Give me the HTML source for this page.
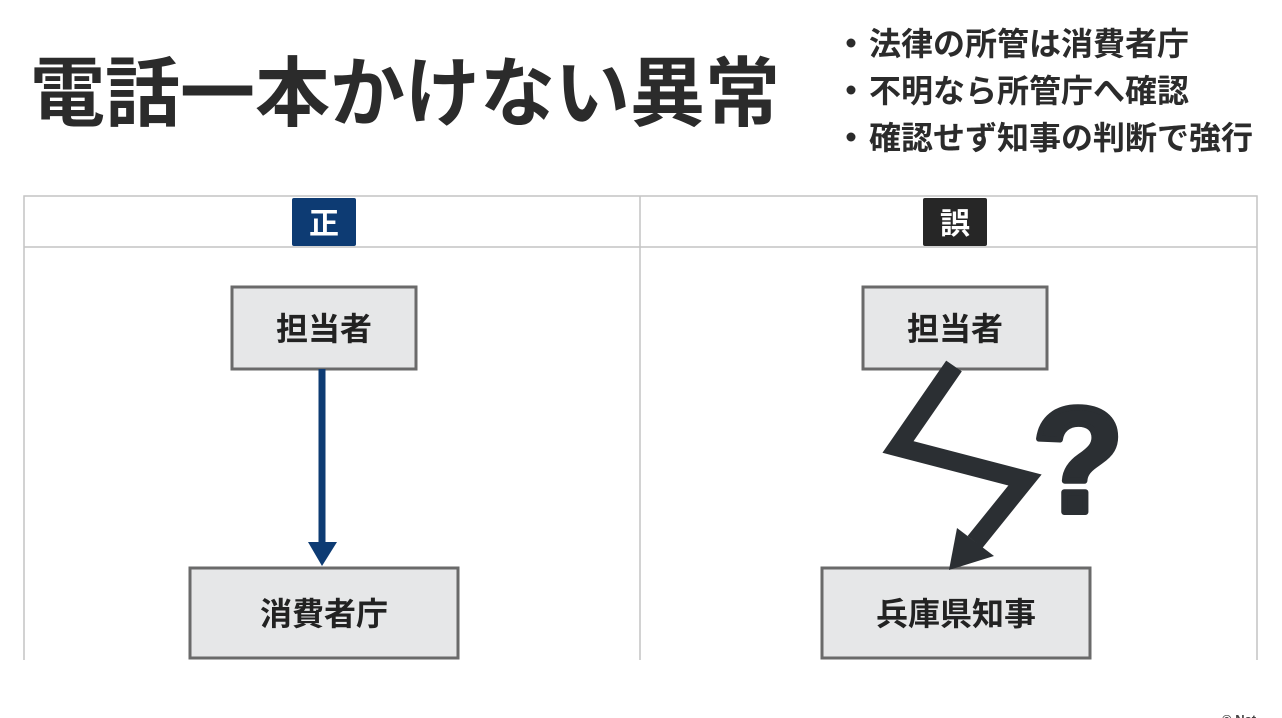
<!DOCTYPE html>
<html><head><meta charset="utf-8"><style>
html,body{margin:0;padding:0;background:#fff;}
body{width:1282px;height:718px;overflow:hidden;position:relative;font-family:"Liberation Sans","Noto Sans CJK JP",sans-serif;}
svg{position:absolute;left:0;top:0;}
text{font-family:"Liberation Sans","Noto Sans CJK JP",sans-serif;font-weight:bold;}
</style></head><body>
<svg width="1282" height="718" viewBox="0 0 1282 718">
<text x="30" y="120" font-size="76" fill="#2b2b2b" font-weight="900" textLength="750" lengthAdjust="spacingAndGlyphs">電話一本かけない異常</text>
<g font-size="32" fill="#2b2b2b">
<circle cx="851" cy="43" r="4.5" fill="#2b2b2b"/>
<text x="869" y="55">法律の所管は消費者庁</text>
<circle cx="851" cy="90" r="4.5" fill="#2b2b2b"/>
<text x="869" y="102">不明なら所管庁へ確認</text>
<circle cx="851" cy="137" r="4.5" fill="#2b2b2b"/>
<text x="869" y="149">確認せず知事の判断で強行</text>
</g>
<g stroke="#c4c4c4" stroke-width="1.5" fill="none">
<path d="M24 660 V196 H1257 V660"/>
<line x1="24" y1="247" x2="1257" y2="247"/>
<line x1="640" y1="196" x2="640" y2="660"/>
</g>
<rect x="292" y="198" width="64" height="48" rx="2" fill="#0d3b73"/>
<text x="324" y="234" font-size="30" fill="#fff" text-anchor="middle">正</text>
<rect x="923" y="198" width="64" height="48" rx="2" fill="#262626"/>
<text x="955" y="234" font-size="30" fill="#fff" text-anchor="middle">誤</text>
<g fill="#e6e7e8" stroke="#6a6a6a" stroke-width="3">
<rect x="232" y="287" width="184" height="82"/>
<rect x="190" y="568" width="268" height="90"/>
<rect x="863" y="287" width="184" height="82"/>
<rect x="822" y="568" width="268" height="90"/>
</g>
<g font-size="32" fill="#222" text-anchor="middle">
<text x="324" y="340">担当者</text>
<text x="324" y="625">消費者庁</text>
<text x="955" y="340">担当者</text>
<text x="956" y="625">兵庫県知事</text>
</g>
<line x1="322" y1="369" x2="322" y2="545" stroke="#0d3b73" stroke-width="7"/>
<polygon points="308,542 337,542 322,566" fill="#0d3b73"/>
<polyline points="954,366 898,447 1025,480 975,542" fill="none" stroke="#2b2f33" stroke-width="19" stroke-linejoin="miter"/>
<polygon points="957,528 994,556 949,570" fill="#2b2f33"/>
<text x="1078" y="512" font-size="150" fill="#2b2f33" stroke="#2b2f33" stroke-width="6" stroke-linejoin="round" text-anchor="middle" font-weight="900">?</text>
<text x="1222" y="724" font-size="13" fill="#444">© Nat</text>
</svg>
</body></html>
